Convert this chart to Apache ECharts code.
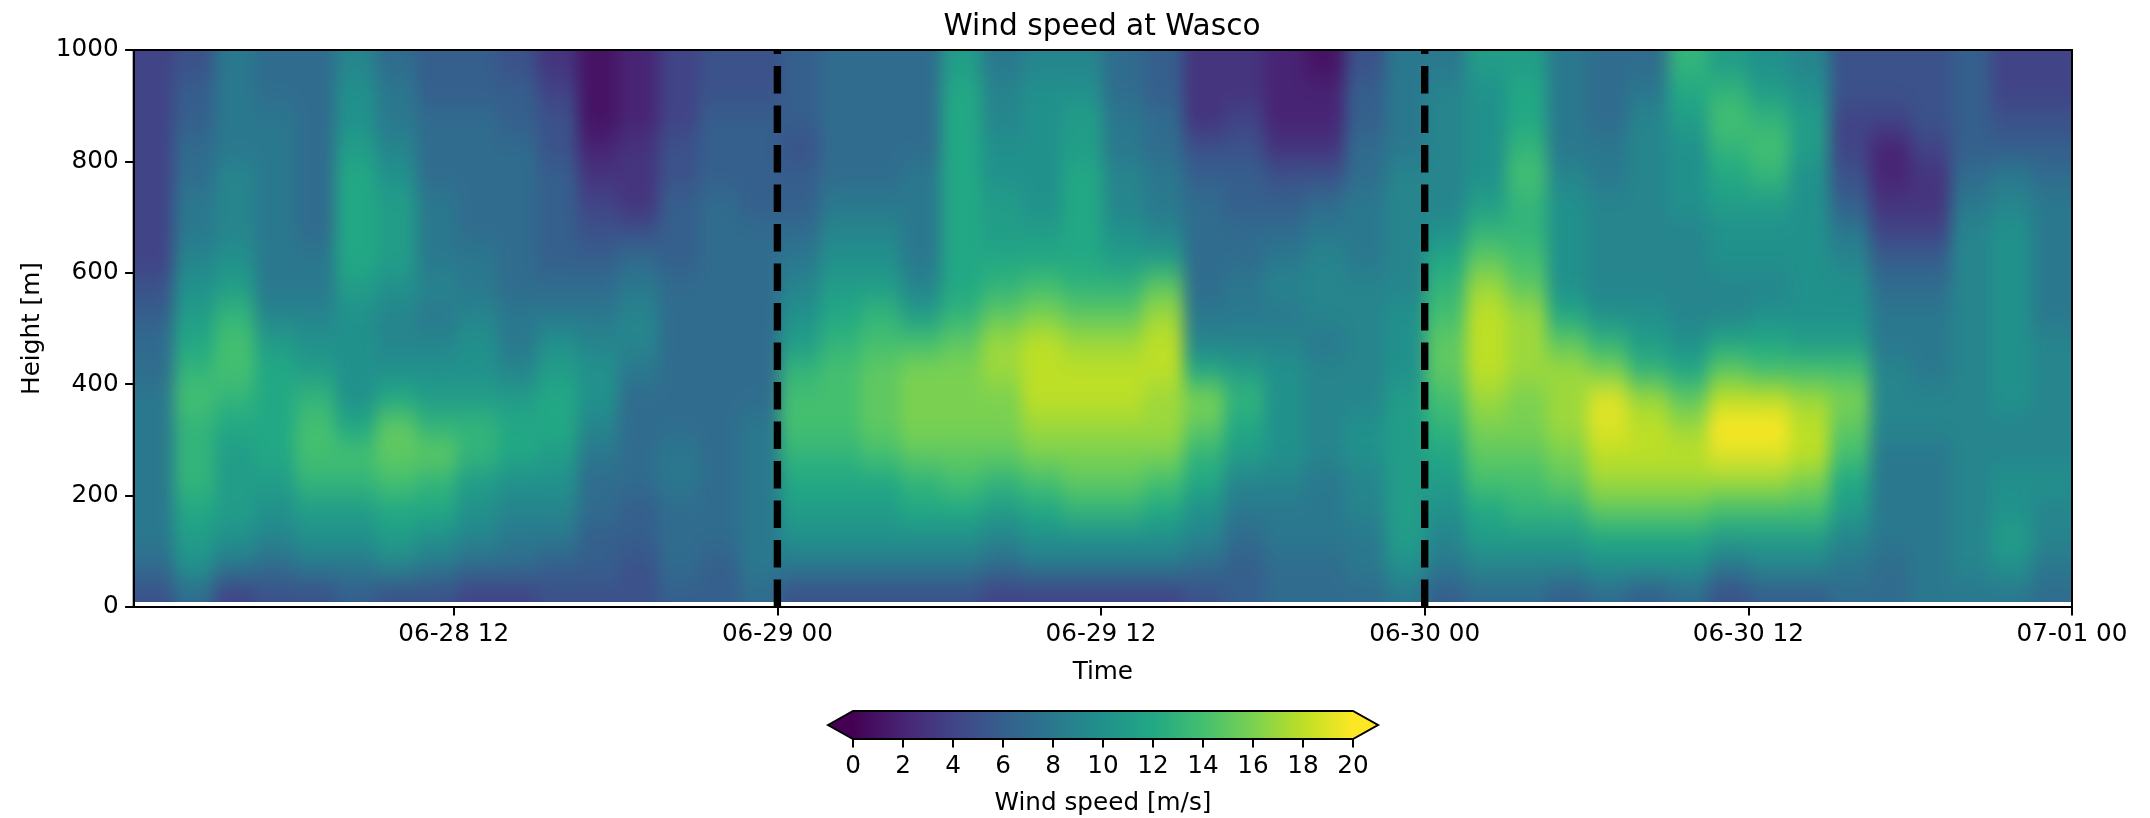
<!DOCTYPE html>
<html><head><meta charset="utf-8">
<style>html,body{margin:0;padding:0;background:#fff}#c{width:2150px;height:818px}</style>
<script src="https://cdn.jsdelivr.net/npm/echarts@6/dist/echarts.min.js"></script>
</head><body>
<svg width="0" height="0" style="position:absolute"><filter id="soft" x="0" y="0" width="100%" height="100%" color-interpolation-filters="sRGB"><feGaussianBlur stdDeviation="8 14"/></filter></svg>
<div id="c"></div>
<script>
const heights = [10,50,100,150,200,250,300,350,400,450,500,550,600,650,700,750,800,850,900,950,1000];
const startTime = Date.UTC(2023,5,28,0,8);
const endTime = Date.UTC(2023,6,1,0,0);
const tickTimes = [Date.UTC(2023,5,28,12),Date.UTC(2023,5,29,0),Date.UTC(2023,5,29,12),Date.UTC(2023,5,30,0),Date.UTC(2023,5,30,12),Date.UTC(2023,6,1,0)];
const markerTimes = [Date.UTC(2023,5,29,0),Date.UTC(2023,5,30,0)];
const heightTicks = [0,200,400,600,800,1000];
const speedTicks = [0,2,4,6,8,10,12,14,16,18,20];
const viridis = ['#440154','#482475','#414487','#355f8d','#2a788e','#21918c','#22a884','#44bf70','#7ad151','#bddf26','#fde725'];
// each line is one time column, bottom height to top height
const day1 = [
[5,7,8,8,8,8,8,8,7,7,6,5,4,4,4,4,4,4,4,4],
[7,10,11,12,13,13,13,14,13,12,11,10,9,8,8,7,7,6,6,5],
[4,8,10,11,11,11,12,13,14,14,13,11,10,9,9,9,8,8,8,8],
[5,7,9,10,11,12,12,12,12,11,9,8,8,8,8,8,8,8,7,7],
[5,8,10,11,13,14,14,13,11,10,9,8,8,7,7,7,7,7,7,7],
[6,8,10,11,13,14,12,10,10,10,10,11,12,12,12,12,11,10,10,9],
[5,9,11,12,14,15,15,12,10,9,9,10,11,11,11,10,9,8,8,7],
[5,8,10,12,13,15,13,11,10,9,8,9,8,8,8,7,7,7,6,6],
[4,7,9,10,11,13,13,11,10,10,9,8,8,7,7,7,7,7,6,6],
[4,7,8,9,10,12,12,11,9,8,8,7,7,7,7,7,7,6,6,5],
[5,6,8,9,10,11,12,12,11,10,8,7,6,6,6,6,5,5,4,3],
[5,6,6,7,7,8,9,10,10,9,8,7,6,5,4,3,2,1,1,1],
[5,5,6,6,7,7,7,7,8,9,9,8,7,5,3,3,3,2,2,2],
[6,7,7,7,8,8,7,7,7,7,7,7,6,6,6,5,5,4,4,4],
[6,6,7,7,7,7,7,7,7,7,7,7,7,7,7,6,6,6,5,5],
[7,8,8,8,8,8,8,7,7,7,7,7,7,7,6,6,6,6,5,5]];
const day2 = [
[5,8,10,11,12,13,14,14,13,11,10,9,8,7,6,6,5,6,6,6],
[5,8,10,11,12,13,14,14,14,13,12,11,10,9,8,7,7,7,7,7],
[5,8,10,11,12,14,15,15,15,14,13,11,10,9,8,7,7,7,7,7],
[5,8,10,12,13,15,16,16,16,14,11,9,8,8,8,8,7,7,7,7],
[5,8,10,12,14,15,16,16,16,15,13,12,12,12,12,12,12,12,12,11],
[4,7,9,11,13,15,16,16,17,17,15,13,12,11,11,10,10,9,9,8],
[4,8,10,12,14,16,17,18,18,18,16,14,12,11,10,10,10,10,10,9],
[4,8,10,13,15,16,17,18,18,17,15,13,12,12,12,12,11,11,10,9],
[4,8,10,13,15,16,17,18,18,17,15,13,11,10,9,9,8,8,7,7],
[4,8,10,12,14,16,17,17,18,18,17,15,11,9,8,8,7,7,6,6],
[5,7,9,10,12,13,15,16,12,9,8,7,7,7,7,6,5,3,3,3],
[6,6,7,8,9,11,12,13,11,9,8,8,7,7,6,6,5,4,3,3],
[7,7,8,8,9,10,10,10,10,9,8,9,8,7,6,5,3,2,2,2],
[7,7,8,8,8,9,9,9,9,8,9,9,9,8,7,5,3,2,2,1],
[7,8,8,9,9,10,10,9,9,9,9,9,8,8,8,7,7,6,6,5],
[8,10,11,11,11,11,11,11,10,10,10,9,9,9,9,9,8,8,8,8]];
const day3 = [
[6,8,9,10,11,12,13,14,15,15,14,13,12,10,9,9,9,9,9,8],
[7,9,11,12,14,15,16,17,18,18,18,17,15,13,11,10,10,10,10,11],
[7,9,11,13,14,15,16,16,17,17,17,15,14,13,13,14,13,12,12,11],
[6,9,11,13,15,16,17,17,17,15,12,10,10,10,10,9,8,8,8,8],
[7,10,12,15,17,18,19,19,16,13,10,9,9,9,9,8,8,7,7,7],
[6,10,12,15,17,18,18,17,13,11,10,9,9,9,9,9,9,9,8,7],
[7,10,12,15,17,18,17,15,12,10,9,9,9,9,10,10,10,11,12,13],
[5,8,11,14,17,19,20,18,15,12,9,9,10,10,11,12,13,14,13,11],
[6,9,11,14,17,19,20,18,14,12,10,9,10,10,11,13,14,13,11,10],
[6,9,11,14,16,18,18,17,14,11,10,10,10,10,10,10,11,11,10,9],
[7,8,9,11,12,14,15,16,14,11,10,10,9,8,6,5,4,4,5,5],
[7,7,8,8,8,8,9,9,9,8,8,7,6,4,3,2,2,4,5,5],
[8,8,8,8,8,8,9,9,8,8,8,7,6,4,3,3,4,5,5,5],
[8,9,9,9,9,9,9,9,9,9,9,9,9,9,8,7,6,6,6,6],
[8,10,11,10,10,9,9,10,10,10,10,10,10,10,9,8,6,5,4,4],
[7,8,9,9,10,9,9,9,9,9,8,8,8,8,8,7,6,5,4,4]];

const columns = day1.concat(day2, day3);
const step = (endTime - startTime) / columns.length;
const cells = [];
columns.forEach((col, i) => col.forEach((v, j) => {
  cells.push([startTime + i*step, startTime + (i+1)*step, heights[j], heights[j+1], v, i, j]);
}));
const BLEED = 50, font = 'DejaVu Sans', fs = 24.7;
const pad2 = n => String(n).padStart(2,'0');
const timeLabel = ms => { const d = new Date(ms); return pad2(d.getUTCMonth()+1)+'-'+pad2(d.getUTCDate())+' '+pad2(d.getUTCHours()); };
const axisLine = {show:true, onZero:false, lineStyle:{color:'#000', width:2}};
const axisTick = {show:true, length:8.6, lineStyle:{color:'#000', width:2}};
const label = {color:'#000', fontFamily:font, fontSize:fs};
const nameStyle = {color:'#000', fontFamily:font, fontSize:fs};

const chart = echarts.init(document.getElementById('c'), null, {renderer:'canvas'});
chart.setOption({
  animation:false,
  backgroundColor:'#fff',
  title:{text:'Wind speed at Wasco', left:1097, top:7, textAlign:'center', zlevel:1,
    textStyle:{color:'#000', fontFamily:font, fontSize:29.6, fontWeight:'normal'}},
  grid:[
    {left:133.7, top:50, width:1938.3, height:557, show:true, borderColor:'#000', borderWidth:2, backgroundColor:'transparent', zlevel:1},
    {left:853, top:711, width:500, height:28, zlevel:1}
  ],
  xAxis:[
    {type:'value', gridIndex:0, min:startTime, max:endTime, zlevel:1, name:'Time', nameLocation:'middle', nameGap:53, nameTextStyle:nameStyle,
     axisLine, axisTick:{...axisTick, customValues:tickTimes},
     axisLabel:{...label, margin:15, customValues:tickTimes, formatter:v=>timeLabel(v), showMinLabel:true, showMaxLabel:true, hideOverlap:false},
     splitLine:{show:false}},
    {type:'value', gridIndex:1, min:speedTicks[0], max:speedTicks[speedTicks.length-1], interval:2, zlevel:1, name:'Wind speed [m/s]', nameLocation:'middle', nameGap:52, nameTextStyle:nameStyle,
     axisLine:{show:false}, axisTick, axisLabel:{...label, margin:15}, splitLine:{show:false}}
  ],
  yAxis:[
    {type:'value', gridIndex:0, min:heightTicks[0], max:heightTicks[heightTicks.length-1], interval:200, zlevel:1, name:'Height [m]', nameLocation:'middle', nameGap:88, nameTextStyle:nameStyle,
     axisLine, axisTick, axisLabel:{...label, margin:15, formatter:v=>String(v)}, splitLine:{show:false}},
    {type:'value', gridIndex:1, min:0, max:1, show:false, zlevel:1}
  ],
  visualMap:{show:false, type:'continuous', seriesIndex:0, dimension:4, min:0, max:20, inRange:{color:viridis}},
  series:[
    {type:'custom', xAxisIndex:0, yAxisIndex:0, zlevel:0, silent:true, data:cells, clip:false,
     encode:{x:[0,1], y:[2,3]},
     renderItem(params, api){
       const a = api.coord([api.value(0), api.value(2)]);
       const b = api.coord([api.value(1), api.value(3)]);
       const i = api.value(5), j = api.value(6);
       let x0 = a[0], x1 = b[0], y0 = a[1], y1 = b[1];
       if (i === 0) x0 -= BLEED;
       if (i === columns.length-1) x1 += BLEED;
       if (j === 0) y0 += BLEED;
       if (j === heights.length-2) y1 -= BLEED;
       return {type:'rect', shape:{x:x0, y:y1, width:x1-x0+0.6, height:y0-y1+0.6}, style:{fill:api.visual('color')}};
     }},
    ...markerTimes.map(t => ({type:'line', xAxisIndex:0, yAxisIndex:0, zlevel:1, silent:true, symbol:'none',
      data:[[t,heightTicks[0]],[t,heightTicks[heightTicks.length-1]]],
      lineStyle:{color:'#000', width:7.4, type:[27.6,11.9], cap:'butt'}})),
    {type:'custom', xAxisIndex:1, yAxisIndex:1, zlevel:1, silent:true, data:[[speedTicks[0],speedTicks[speedTicks.length-1]]], clip:false,
     renderItem(params, api){
       const lo = api.value(0), hi = api.value(1);
       const p = (x,y) => api.coord([x,y]);
       const pts = [p(lo-1,0.5), p(lo,1), p(hi,1), p(hi+1,0.5), p(hi,0), p(lo,0)];
       const x0 = p(lo,0)[0], x1 = p(hi,0)[0];
       return {type:'polygon', shape:{points:pts}, style:{
         stroke:'#000', lineWidth:2,
         fill:new echarts.graphic.LinearGradient(x0,0,x1,0,viridis.map((c,k)=>({offset:k/(viridis.length-1), color:c})),true)}};
     }}
  ]
});
// soften the cell edges, as the source's shaded mesh does, and keep the layer inside the plot box
const base = chart.getDom().querySelector('canvas[data-zr-dom-id="zr_0"]');
if (base) {
  const tl = chart.convertToPixel({gridIndex:0}, [startTime, 1000]);
  const br = chart.convertToPixel({gridIndex:0}, [endTime, 10]);
  base.style.filter = 'url(#soft)';
  base.style.clipPath = `inset(${tl[1]}px ${2150-br[0]}px ${818-br[1]}px ${tl[0]}px)`;
}
</script></body></html>
